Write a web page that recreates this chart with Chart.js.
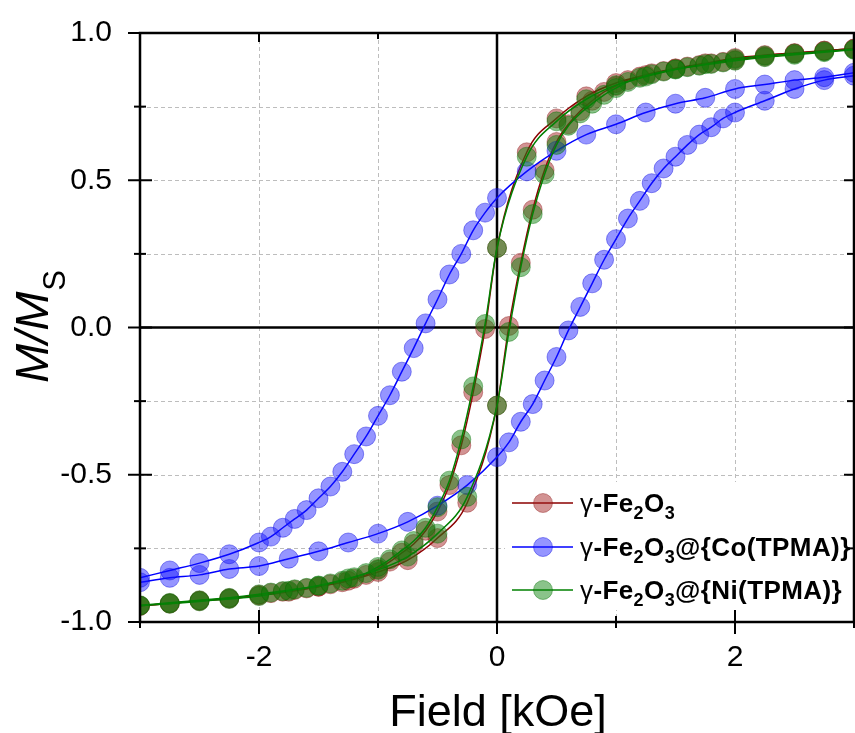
<!DOCTYPE html>
<html><head><meta charset="utf-8">
<script src="https://cdn.jsdelivr.net/npm/chart.js@4.4.1/dist/chart.umd.min.js"></script>
<style>html,body{margin:0;padding:0;background:#fff;overflow:hidden;}#wrap{width:855px;height:733px;position:relative;overflow:hidden;}canvas{display:block;}</style>
</head><body><div id="wrap"><canvas id="c" width="855" height="733"></canvas></div>
<script>
// Field values (kOe): branch A (descending sweep, fine steps on negative side), branch B (ascending sweep)
const fieldA = [-3, -2.75, -2.5, -2.25, -2.0, -1.9, -1.8, -1.7, -1.6, -1.5, -1.4, -1.3, -1.2, -1.1, -1.0, -0.9, -0.8, -0.7, -0.6, -0.5, -0.4, -0.3, -0.2, -0.1, 0, 0.25, 0.5, 0.75, 1.0, 1.25, 1.5, 1.75, 2.0, 2.25, 2.5, 2.75, 3.0];
const fieldB = [-3, -2.75, -2.5, -2.25, -2.0, -1.75, -1.5, -1.25, -1.0, -0.75, -0.5, -0.25, 0, 0.1, 0.2, 0.3, 0.4, 0.5, 0.6, 0.7, 0.8, 0.9, 1.0, 1.1, 1.2, 1.3, 1.4, 1.5, 1.6, 1.7, 1.8, 1.9, 2.0, 2.25, 2.5, 2.75, 3.0];

const feDesc = [-0.945, -0.937, -0.928, -0.92, -0.908, -0.902, -0.897, -0.891, -0.886, -0.88, -0.872, -0.865, -0.853, -0.84, -0.82, -0.795, -0.765, -0.735, -0.69, -0.625, -0.535, -0.40, -0.22, -0.005, 0.27, 0.595, 0.71, 0.785, 0.83, 0.857, 0.88, 0.897, 0.915, 0.925, 0.932, 0.94, 0.947];
const feAsc = [-0.945, -0.937, -0.928, -0.92, -0.91, -0.897, -0.88, -0.86, -0.83, -0.79, -0.715, -0.595, -0.265, 0.005, 0.22, 0.40, 0.535, 0.63, 0.69, 0.735, 0.77, 0.80, 0.82, 0.84, 0.852, 0.863, 0.871, 0.879, 0.886, 0.891, 0.897, 0.902, 0.908, 0.92, 0.93, 0.94, 0.947];

const coDesc = [-0.85, -0.825, -0.80, -0.77, -0.73, -0.71, -0.68, -0.65, -0.62, -0.58, -0.54, -0.49, -0.43, -0.37, -0.30, -0.23, -0.15, -0.07, 0.014, 0.095, 0.18, 0.25, 0.33, 0.39, 0.44, 0.53, 0.60, 0.655, 0.69, 0.73, 0.76, 0.78, 0.81, 0.825, 0.84, 0.85, 0.865];
const coAsc = [-0.865, -0.85, -0.84, -0.82, -0.81, -0.785, -0.76, -0.73, -0.70, -0.66, -0.605, -0.535, -0.44, -0.39, -0.32, -0.26, -0.18, -0.10, -0.01, 0.07, 0.15, 0.23, 0.30, 0.37, 0.43, 0.49, 0.54, 0.58, 0.62, 0.655, 0.68, 0.71, 0.73, 0.77, 0.81, 0.84, 0.855];

const niDesc = [-0.943, -0.935, -0.926, -0.918, -0.906, -0.90, -0.895, -0.889, -0.884, -0.877, -0.869, -0.86, -0.848, -0.834, -0.813, -0.787, -0.757, -0.725, -0.68, -0.61, -0.52, -0.38, -0.20, 0.012, 0.27, 0.58, 0.70, 0.775, 0.823, 0.852, 0.876, 0.894, 0.912, 0.923, 0.93, 0.938, 0.945];
const niAsc = [-0.945, -0.938, -0.93, -0.922, -0.912, -0.894, -0.876, -0.852, -0.823, -0.778, -0.70, -0.575, -0.265, -0.015, 0.205, 0.385, 0.52, 0.62, 0.685, 0.727, 0.76, 0.79, 0.813, 0.834, 0.848, 0.86, 0.869, 0.877, 0.884, 0.889, 0.895, 0.90, 0.906, 0.918, 0.926, 0.935, 0.943];

const seriesLabels = ['γ-Fe2O3', 'γ-Fe2O3@{Co(TPMA)}', 'γ-Fe2O3@{Ni(TPMA)}'];
const xLabelTicks = [-2, 0, 2];
const yLabelTicks = [-1.0, -0.5, 0.0, 0.5, 1.0];
const xTitle = 'Field [kOe]';
const yTitleMain = 'M/M';
const yTitleSub = 'S';

const styles = [
  {line: '#8b0000', fill: 'rgba(160,30,30,0.48)', edge: 'rgba(140,20,20,0.4)'},
  {line: '#0000ff', fill: 'rgba(20,20,255,0.45)', edge: 'rgba(0,0,220,0.4)'},
  {line: '#008000', fill: 'rgba(10,130,10,0.48)', edge: 'rgba(0,110,0,0.4)'}
];

function pts(xs, ys) { return xs.map((x, i) => ({x: x, y: ys[i]})); }
function ds(xs, ys, si, order) {
  const s = styles[si];
  return {
    data: pts(xs, ys), showLine: true, borderColor: s.line, borderWidth: 1.5,
    pointRadius: 9.5, pointHoverRadius: 9.5, pointBackgroundColor: s.fill,
    pointBorderColor: s.edge, pointBorderWidth: 1, cubicInterpolationMode: 'monotone',
    clip: 0, order: order, fill: false
  };
}

const FONT = '"Liberation Sans", Arial, Helvetica, sans-serif';
const AREA = {left: 140, right: 854, top: 33, bottom: 622};

const decor = {
  id: 'decor',
  afterLayout(chart) {
    const a = chart.chartArea;
    a.left = AREA.left; a.right = AREA.right; a.top = AREA.top; a.bottom = AREA.bottom;
    a.width = AREA.right - AREA.left; a.height = AREA.bottom - AREA.top;
    const {x, y} = chart.scales;
    x.left = AREA.left; x.right = AREA.right; x.width = a.width;
    x.top = AREA.bottom; x.bottom = chart.height; x.height = chart.height - AREA.bottom;
    y.left = 0; y.right = AREA.left; y.width = AREA.left;
    y.top = AREA.top; y.bottom = AREA.bottom; y.height = a.height;
    x.configure(); y.configure();
    x._labelItems = null; y._labelItems = null;
  },
  beforeDatasetsDraw(chart) {
    const {ctx, chartArea: a, scales: {x, y}} = chart;
    ctx.save();
    ctx.strokeStyle = '#bdbdbd'; ctx.lineWidth = 1; ctx.setLineDash([4, 3]);
    [-2, -1, 1, 2].forEach(v => {
      const p = Math.round(x.getPixelForValue(v)) + 0.5;
      ctx.beginPath(); ctx.moveTo(p, a.top); ctx.lineTo(p, a.bottom); ctx.stroke();
    });
    [-0.75, -0.5, -0.25, 0.25, 0.5, 0.75].forEach(v => {
      const p = Math.round(y.getPixelForValue(v)) + 0.5;
      ctx.beginPath(); ctx.moveTo(a.left, p); ctx.lineTo(a.right, p); ctx.stroke();
    });
    ctx.setLineDash([]);
    ctx.strokeStyle = '#000'; ctx.lineWidth = 2.5;
    const x0 = x.getPixelForValue(0), y0 = y.getPixelForValue(0);
    ctx.beginPath(); ctx.moveTo(x0, a.top); ctx.lineTo(x0, a.bottom); ctx.stroke();
    ctx.beginPath(); ctx.moveTo(a.left, y0); ctx.lineTo(a.right, y0); ctx.stroke();
    ctx.restore();
  },
  afterDatasetsDraw(chart) {
    const {ctx, chartArea: a, scales: {x, y}} = chart;
    ctx.save();
    // legend
    ctx.fillStyle = '#fff';
    ctx.fillRect(505, 482, 345, 128);
    const ly = [503, 547, 590];
    seriesLabels.forEach((lab, i) => {
      const s = styles[i], cy = ly[i];
      ctx.strokeStyle = s.line; ctx.lineWidth = 1.5;
      ctx.beginPath(); ctx.moveTo(512, cy); ctx.lineTo(573, cy); ctx.stroke();
      ctx.beginPath(); ctx.arc(543, cy, 9.5, 0, Math.PI * 2);
      ctx.fillStyle = s.fill; ctx.fill();
      ctx.strokeStyle = s.edge; ctx.lineWidth = 1; ctx.stroke();
      let cx = 580; const base = cy + 9;
      ctx.fillStyle = '#000'; ctx.textBaseline = 'alphabetic'; ctx.textAlign = 'left';
      for (const ch of lab) {
        let f, dy = 0;
        if (ch === 'γ') f = '26px ' + FONT;
        else if (/[0-9]/.test(ch)) { f = 'bold 18px ' + FONT; dy = 7; }
        else f = 'bold 26px ' + FONT;
        ctx.font = f;
        ctx.fillText(ch, cx, base + dy);
        cx += ctx.measureText(ch).width + 0.4;
      }
    });
    // frame
    ctx.strokeStyle = '#000'; ctx.lineWidth = 2.5;
    ctx.strokeRect(a.left, a.top, a.right - a.left, a.bottom - a.top);
    // ticks
    ctx.lineWidth = 2;
    for (let v = -3; v <= 3; v++) {
      const p = x.getPixelForValue(v), major = (v % 2 === 0);
      const L = major ? 12 : 6;
      ctx.beginPath(); ctx.moveTo(p, a.bottom - L); ctx.lineTo(p, a.bottom + L); ctx.stroke();
      ctx.beginPath(); ctx.moveTo(p, a.top); ctx.lineTo(p, a.top + (major ? 9 : 6)); ctx.stroke();
    }
    for (let k = -4; k <= 4; k++) {
      const v = k * 0.25, p = y.getPixelForValue(v), major = (k % 2 === 0);
      const L = major ? 12 : 6;
      ctx.beginPath(); ctx.moveTo(a.left - L, p); ctx.lineTo(a.left + L, p); ctx.stroke();
      ctx.beginPath(); ctx.moveTo(a.right, p); ctx.lineTo(a.right - (major ? 10 : 7), p); ctx.stroke();
    }
    ctx.restore();
  },
  afterDraw(chart) {
    const {ctx} = chart;
    ctx.save();
    ctx.fillStyle = '#000';
    ctx.font = '45px ' + FONT; ctx.textAlign = 'center'; ctx.textBaseline = 'alphabetic';
    ctx.fillText(xTitle, 498, 726);
    // y title rotated
    ctx.translate(48, 327);
    ctx.rotate(-Math.PI / 2);
    ctx.textAlign = 'left';
    ctx.font = 'italic 47px ' + FONT;
    const w1 = ctx.measureText(yTitleMain).width;
    ctx.font = '31px ' + FONT;
    const w2 = ctx.measureText(yTitleSub).width;
    const start = -(w1 + w2) / 2;
    ctx.font = 'italic 47px ' + FONT;
    ctx.fillText(yTitleMain, start, 0);
    ctx.font = '31px ' + FONT;
    ctx.fillText(yTitleSub, start + w1 + 1, 17);
    ctx.restore();
  }
};

new Chart(document.getElementById('c'), {
  type: 'scatter',
  data: {
    datasets: [
      ds(fieldA, feDesc, 0, 3), ds(fieldB, feAsc, 0, 3),
      ds(fieldA, coDesc, 1, 2), ds(fieldB, coAsc, 1, 2),
      ds(fieldA, niDesc, 2, 1), ds(fieldB, niAsc, 2, 1)
    ]
  },
  options: {
    responsive: false, animation: false, devicePixelRatio: 1,
    layout: {padding: {top: 33, right: 1, left: 0, bottom: 0}},
    plugins: {legend: {display: false}, tooltip: {enabled: false}},
    scales: {
      x: {
        type: 'linear', min: -3, max: 3,
        grid: {display: false}, border: {display: false},
        afterFit: s => { s.height = 111; s.paddingLeft = 0; s.paddingRight = 0; },
        ticks: {
          stepSize: 1, padding: 10, color: '#000', maxRotation: 0, autoSkip: false,
          font: {family: FONT, size: 30},
          callback: v => xLabelTicks.includes(v) ? String(v) : ''
        }
      },
      y: {
        type: 'linear', min: -1, max: 1,
        grid: {display: false}, border: {display: false},
        afterFit: s => { s.width = 140; s.paddingTop = 0; s.paddingBottom = 0; },
        ticks: {
          stepSize: 0.25, padding: 20, color: '#000', autoSkip: false,
          font: {family: FONT, size: 30},
          callback: v => yLabelTicks.some(t => Math.abs(t - v) < 1e-6) ? v.toFixed(1) : ''
        }
      }
    }
  },
  plugins: [decor]
});
</script>
</body></html>
